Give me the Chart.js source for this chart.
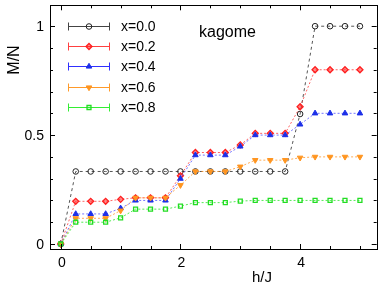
<!DOCTYPE html>
<html>
<head>
<meta charset="utf-8">
<script src="https://cdn.jsdelivr.net/npm/chart.js@4/dist/chart.umd.min.js"></script>
<style>
  body { margin: 0; background: #fff; }
  canvas { display: block; }
</style>
</head>
<body>
<canvas id="chart" width="382" height="292"></canvas>
<script>
// field h/J where each point sits
const fields = [0, 0.25, 0.5, 0.75, 1, 1.25, 1.5, 1.75, 2, 2.25, 2.5, 2.75, 3, 3.25, 3.5, 3.75, 4, 4.25, 4.5, 4.75, 5];

// magnetization M/N for each impurity concentration x
const magX00 = [0, 0.333, 0.333, 0.333, 0.333, 0.333, 0.333, 0.333, 0.333, 0.333, 0.333, 0.333, 0.333, 0.333, 0.333, 0.333, 0.597, 1, 1, 1, 1];
const magX02 = [0, 0.196, 0.196, 0.196, 0.205, 0.212, 0.212, 0.212, 0.313, 0.42, 0.42, 0.42, 0.455, 0.508, 0.508, 0.508, 0.63, 0.8, 0.8, 0.8, 0.8];
const magX04 = [0, 0.138, 0.138, 0.138, 0.164, 0.2, 0.2, 0.2, 0.3, 0.408, 0.408, 0.408, 0.448, 0.5, 0.5, 0.5, 0.549, 0.6, 0.6, 0.6, 0.6];
const magX06 = [0, 0.118, 0.118, 0.118, 0.153, 0.212, 0.212, 0.212, 0.27, 0.333, 0.333, 0.333, 0.355, 0.385, 0.385, 0.385, 0.396, 0.4, 0.4, 0.4, 0.4];
const magX08 = [0, 0.1, 0.1, 0.1, 0.12, 0.16, 0.16, 0.16, 0.174, 0.19, 0.19, 0.19, 0.197, 0.2, 0.2, 0.2, 0.2, 0.2, 0.2, 0.2, 0.2];

const seriesLabels = ["x=0.0", "x=0.2", "x=0.4", "x=0.6", "x=0.8"];

const xTickLabels = [0, 2, 4];
const yTickLabels = [0, 0.5, 1];

const FONT = "'Liberation Sans', Arial, sans-serif";

const toPoints = (ys) => fields.map((h, i) => ({ x: h, y: ys[i] }));

// styles per series
const styles = [
  { line: "#555", dash: [3, 3], pStyle: "circle", rot: 0, r: 2.8, fill: "rgba(255,255,255,0)", stroke: "#222", pw: 1, legendLine: "#444" },
  { line: "rgba(255,50,50,0.75)", dash: [2, 2], pStyle: "rectRot", rot: 0, r: 3, fill: "rgba(255,40,40,0.55)", stroke: "#ff2020", pw: 1.3, legendLine: "#ff4040" },
  { line: "rgba(60,60,255,0.7)", dash: [2, 2], pStyle: "triangle", rot: 0, r: 3.2, fill: "#1c2fe8", stroke: "#1c2fe8", pw: 1, legendLine: "#3030ff" },
  { line: "rgba(255,150,40,0.8)", dash: [2, 2], pStyle: "triangle", rot: 180, r: 3.2, fill: "#ff9520", stroke: "#ff9520", pw: 1, legendLine: "#ff9a2a" },
  { line: "rgba(40,230,40,0.8)", dash: [2, 2], pStyle: "rect", rot: 0, r: 2.8, fill: "rgba(255,255,255,0)", stroke: "#22dd22", pw: 1.3, legendLine: "#33ee33" },
];

const allSeries = [magX00, magX02, magX04, magX06, magX08];

const datasets = allSeries.map((ys, i) => ({
  label: seriesLabels[i],
  data: toPoints(ys),
  showLine: true,
  borderColor: styles[i].line,
  borderDash: styles[i].dash,
  borderWidth: 1,
  pointStyle: styles[i].pStyle,
  pointRotation: styles[i].rot,
  pointRadius: styles[i].r,
  pointBackgroundColor: styles[i].fill,
  pointBorderColor: styles[i].stroke,
  pointBorderWidth: styles[i].pw,
  order: 5 - i,
}));

// frame, inward ticks, labels, legend and annotation
const framePlugin = {
  id: "frame",
  afterDraw(chart) {
    const { ctx, chartArea: a, scales } = chart;
    const xs = scales.x, ys = scales.y;
    ctx.save();
    ctx.strokeStyle = "#000";
    ctx.lineWidth = 1;
    ctx.setLineDash([]);
    ctx.strokeRect(Math.round(a.left) + 0.5, Math.round(a.top) + 0.5,
      Math.round(a.right - a.left), Math.round(a.bottom - a.top));

    ctx.beginPath();
    for (let k = 0; k <= 10; k++) {
      const v = k * 0.5;
      const px = Math.round(xs.getPixelForValue(v)) + 0.5;
      const len = k % 4 === 0 ? 5 : 3;
      ctx.moveTo(px, a.bottom); ctx.lineTo(px, a.bottom - len);
      ctx.moveTo(px, a.top); ctx.lineTo(px, a.top + len);
    }
    for (let k = 0; k <= 10; k++) {
      const v = k * 0.1;
      const py = Math.round(ys.getPixelForValue(v)) + 0.5;
      const len = k % 5 === 0 ? 5 : 3;
      ctx.moveTo(a.left, py); ctx.lineTo(a.left + len, py);
      ctx.moveTo(a.right, py); ctx.lineTo(a.right - len, py);
    }
    ctx.stroke();

    ctx.fillStyle = "#000";
    ctx.font = "14px " + FONT;
    ctx.textAlign = "center";
    ctx.textBaseline = "alphabetic";
    xTickLabels.forEach((v) => {
      ctx.fillText(String(v), xs.getPixelForValue(v) + 1, 267);
    });
    ctx.textAlign = "right";
    ctx.textBaseline = "middle";
    yTickLabels.forEach((v) => {
      ctx.fillText(String(v), 44, ys.getPixelForValue(v) + 1);
    });

    ctx.font = "15px " + FONT;
    ctx.textAlign = "center";
    ctx.textBaseline = "alphabetic";
    ctx.fillText("h/J", 262, 282);
    ctx.save();
    ctx.translate(19, 60);
    ctx.rotate(-Math.PI / 2);
    ctx.font = "16px " + FONT;
    ctx.fillText("M/N", 0, 0);
    ctx.restore();

    ctx.font = "16px " + FONT;
    ctx.textAlign = "left";
    ctx.fillText("kagome", 199, 37);

    // legend
    const helpers = Chart.helpers;
    styles.forEach((s, i) => {
      const y = Math.round(25.5 + i * 20.4) + 0.5;
      ctx.strokeStyle = s.legendLine;
      ctx.lineWidth = 1;
      ctx.beginPath();
      ctx.moveTo(68, y); ctx.lineTo(110, y);
      ctx.moveTo(68.5, y - 4); ctx.lineTo(68.5, y + 4);
      ctx.moveTo(109.5, y - 4); ctx.lineTo(109.5, y + 4);
      ctx.stroke();
      ctx.fillStyle = s.fill;
      ctx.strokeStyle = s.stroke;
      ctx.lineWidth = s.pw;
      if (helpers && helpers.drawPoint) {
        helpers.drawPoint(ctx, { pointStyle: s.pStyle, rotation: s.rot, radius: s.r, borderWidth: s.pw }, 89, y);
      }
      ctx.fillStyle = "#000";
      ctx.font = "14px " + FONT;
      ctx.textBaseline = "middle";
      ctx.fillText(seriesLabels[i], 121, y + 1);
    });
    ctx.restore();
  },
};

new Chart(document.getElementById("chart"), {
  type: "scatter",
  data: { datasets },
  options: {
    responsive: false,
    animation: false,
    layout: { padding: { left: 50, right: 4, top: 5, bottom: 43 } },
    scales: {
      x: { type: "linear", min: -0.18, max: 5.28, display: false },
      y: { type: "linear", min: -0.023, max: 1.096, display: false },
    },
    plugins: { legend: { display: false }, tooltip: { enabled: false } },
  },
  plugins: [framePlugin],
});
</script>
</body>
</html>
